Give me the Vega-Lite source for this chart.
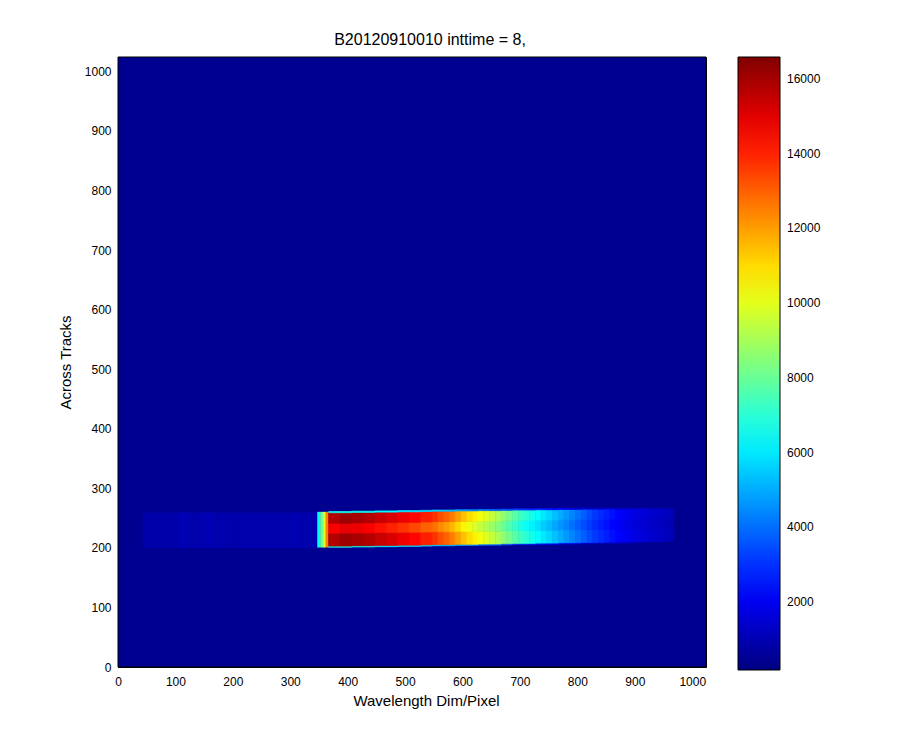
{
  "$schema": "https://vega.github.io/schema/vega-lite/v6.json",
  "width": 588,
  "height": 610,
  "autosize": "none",
  "padding": {"left": 118, "top": 57, "right": 194, "bottom": 83},
  "background": "white",
  "title": {"text": "B20120910010 inttime = 8,", "font": "Liberation Sans", "fontSize": 16, "fontWeight": "normal", "color": "black", "baseline": "alphabetic", "offset": -4, "dx": 18},
  "config": {
    "view": {"stroke": null},
    "axis": {"labelFont": "Liberation Sans", "labelFontSize": 12, "labelColor": "black", "labelFlush": false, "tickColor": "black", "domainColor": "black", "grid": false, "tickSize": -5, "zindex": 1, "titleFont": "Liberation Sans", "titleFontSize": 15, "titleFontWeight": "normal", "titleColor": "black"}
  },
  "datasets": {
    "cells": [
      {"x0": 0, "x1": 1024, "y0": 0, "y1": 1024, "v": 440},
      {"x0": 43, "x1": 105, "y0": 199.5, "y1": 259.5, "v": 880},
      {"x0": 105, "x1": 121, "y0": 199.5, "y1": 259.5, "v": 1020},
      {"x0": 121, "x1": 150, "y0": 199.5, "y1": 259.5, "v": 900},
      {"x0": 150, "x1": 162, "y0": 199.5, "y1": 259.5, "v": 1020},
      {"x0": 162, "x1": 200, "y0": 199.5, "y1": 259.5, "v": 890},
      {"x0": 200, "x1": 305, "y0": 199.5, "y1": 259.5, "v": 900},
      {"x0": 305, "x1": 318, "y0": 199.5, "y1": 259.5, "v": 1010},
      {"x0": 318, "x1": 347, "y0": 199.5, "y1": 259.5, "v": 940},
      {"x0": 347, "x1": 352, "y0": 200.5, "y1": 260.5, "v": 6300},
      {"x0": 352, "x1": 357, "y0": 200.5, "y1": 260.5, "v": 8000},
      {"x0": 357, "x1": 362, "y0": 200.5, "y1": 260.5, "v": 10000},
      {"x0": 362, "x1": 367, "y0": 200.5, "y1": 260.5, "v": 12500}
    ],
    "cols": [
      {"x0": 367, "x1": 387, "y0": 201, "y1": 203, "y2": 224.5, "y3": 241.5, "y4": 259, "y5": 261, "e": 6570, "b": 15770, "m": 14600},
      {"x0": 387, "x1": 407, "y0": 201, "y1": 203, "y2": 224.5, "y3": 241.5, "y4": 259, "y5": 261, "e": 6700, "b": 16090, "m": 14900},
      {"x0": 407, "x1": 427, "y0": 201.5, "y1": 203.5, "y2": 225, "y3": 242, "y4": 259.5, "y5": 261.5, "e": 6660, "b": 15980, "m": 14800},
      {"x0": 427, "x1": 447, "y0": 201.5, "y1": 203.5, "y2": 225, "y3": 242, "y4": 259.5, "y5": 261.5, "e": 6570, "b": 15770, "m": 14600},
      {"x0": 447, "x1": 467, "y0": 202, "y1": 204, "y2": 225.5, "y3": 242.5, "y4": 260, "y5": 262, "e": 6440, "b": 15440, "m": 14300},
      {"x0": 467, "x1": 487, "y0": 202, "y1": 204, "y2": 225.5, "y3": 242.5, "y4": 260, "y5": 262, "e": 6300, "b": 15120, "m": 14000},
      {"x0": 487, "x1": 507, "y0": 202.5, "y1": 204.5, "y2": 226, "y3": 243, "y4": 260.5, "y5": 262.5, "e": 6170, "b": 14800, "m": 13700},
      {"x0": 507, "x1": 527, "y0": 202.5, "y1": 204.5, "y2": 226, "y3": 243, "y4": 260.5, "y5": 262.5, "e": 6030, "b": 14470, "m": 13400},
      {"x0": 527, "x1": 547, "y0": 203, "y1": 205, "y2": 226.5, "y3": 243.5, "y4": 261, "y5": 263, "e": 5850, "b": 14040, "m": 13000},
      {"x0": 547, "x1": 557, "y0": 203.5, "y1": 205.5, "y2": 227, "y3": 244, "y4": 261.5, "y5": 263.5, "e": 5720, "b": 13720, "m": 12700},
      {"x0": 557, "x1": 567, "y0": 203.5, "y1": 205.5, "y2": 227, "y3": 244, "y4": 261.5, "y5": 263.5, "e": 5540, "b": 13280, "m": 12300},
      {"x0": 567, "x1": 577, "y0": 203.5, "y1": 205.5, "y2": 227, "y3": 244, "y4": 261.5, "y5": 263.5, "e": 5400, "b": 12960, "m": 12000},
      {"x0": 577, "x1": 587, "y0": 203.5, "y1": 205.5, "y2": 227, "y3": 244, "y4": 261.5, "y5": 263.5, "e": 5220, "b": 12530, "m": 11600},
      {"x0": 587, "x1": 597, "y0": 204, "y1": 206, "y2": 227.5, "y3": 244.5, "y4": 262, "y5": 264, "e": 5000, "b": 11990, "m": 11100},
      {"x0": 597, "x1": 607, "y0": 204, "y1": 206, "y2": 227.5, "y3": 244.5, "y4": 262, "y5": 264, "e": 4770, "b": 11450, "m": 10600},
      {"x0": 607, "x1": 617, "y0": 204, "y1": 206, "y2": 227.5, "y3": 244.5, "y4": 262, "y5": 264, "e": 4590, "b": 11020, "m": 10200},
      {"x0": 617, "x1": 627, "y0": 204, "y1": 206, "y2": 227.5, "y3": 244.5, "y4": 262, "y5": 264, "e": 4430, "b": 10640, "m": 9850},
      {"x0": 627, "x1": 637, "y0": 204.5, "y1": 206.5, "y2": 228, "y3": 245, "y4": 262.5, "y5": 264.5, "e": 4280, "b": 10260, "m": 9500},
      {"x0": 637, "x1": 647, "y0": 204.5, "y1": 206.5, "y2": 228, "y3": 245, "y4": 262.5, "y5": 264.5, "e": 4120, "b": 9880, "m": 9150},
      {"x0": 647, "x1": 657, "y0": 204.5, "y1": 206.5, "y2": 228, "y3": 245, "y4": 262.5, "y5": 264.5, "e": 3960, "b": 9500, "m": 8800},
      {"x0": 657, "x1": 667, "y0": 204.5, "y1": 206.5, "y2": 228, "y3": 245, "y4": 262.5, "y5": 264.5, "e": 3800, "b": 9130, "m": 8450},
      {"x0": 667, "x1": 677, "y0": 205, "y1": 207, "y2": 228.5, "y3": 245.5, "y4": 263, "y5": 265, "e": 3600, "b": 8640, "m": 8000},
      {"x0": 677, "x1": 687, "y0": 205, "y1": 207, "y2": 228.5, "y3": 245.5, "y4": 263, "y5": 265, "e": 3420, "b": 8210, "m": 7600},
      {"x0": 687, "x1": 697, "y0": 205.5, "y1": 207.5, "y2": 229, "y3": 246, "y4": 263.5, "y5": 265.5, "e": 3240, "b": 7780, "m": 7200},
      {"x0": 697, "x1": 707, "y0": 205.5, "y1": 207.5, "y2": 229, "y3": 246, "y4": 263.5, "y5": 265.5, "e": 3060, "b": 7340, "m": 6800},
      {"x0": 707, "x1": 717, "y0": 205.5, "y1": 207.5, "y2": 229, "y3": 246, "y4": 263.5, "y5": 265.5, "e": 2900, "b": 6970, "m": 6450},
      {"x0": 717, "x1": 727, "y0": 205.5, "y1": 207.5, "y2": 229, "y3": 246, "y4": 263.5, "y5": 265.5, "e": 2770, "b": 6640, "m": 6150},
      {"x0": 727, "x1": 737, "y0": 206, "y1": 208, "y2": 229.5, "y3": 246.5, "y4": 264, "y5": 266, "e": 2630, "b": 6320, "m": 5850},
      {"x0": 737, "x1": 747, "y0": 206, "y1": 208, "y2": 229.5, "y3": 246.5, "y4": 264, "y5": 266, "e": 2500, "b": 5990, "m": 5550},
      {"x0": 747, "x1": 757, "y0": 206, "y1": 208, "y2": 229.5, "y3": 246.5, "y4": 264, "y5": 266, "e": 2360, "b": 5670, "m": 5250},
      {"x0": 757, "x1": 767, "y0": 206, "y1": 208, "y2": 229.5, "y3": 246.5, "y4": 264, "y5": 266, "e": 2230, "b": 5350, "m": 4950},
      {"x0": 767, "x1": 777, "y0": 206.5, "y1": 208.5, "y2": 230, "y3": 247, "y4": 264.5, "y5": 266.5, "e": 2090, "b": 5020, "m": 4650},
      {"x0": 777, "x1": 787, "y0": 206.5, "y1": 208.5, "y2": 230, "y3": 247, "y4": 264.5, "y5": 266.5, "e": 1960, "b": 4700, "m": 4350},
      {"x0": 787, "x1": 797, "y0": 206.5, "y1": 208.5, "y2": 230, "y3": 247, "y4": 264.5, "y5": 266.5, "e": 1820, "b": 4370, "m": 4050},
      {"x0": 797, "x1": 807, "y0": 206.5, "y1": 208.5, "y2": 230, "y3": 247, "y4": 264.5, "y5": 266.5, "e": 1690, "b": 4050, "m": 3750},
      {"x0": 807, "x1": 817, "y0": 207, "y1": 209, "y2": 230.5, "y3": 247.5, "y4": 265, "y5": 267, "e": 1550, "b": 3730, "m": 3450},
      {"x0": 817, "x1": 827, "y0": 207, "y1": 209, "y2": 230.5, "y3": 247.5, "y4": 265, "y5": 267, "e": 1420, "b": 3400, "m": 3150},
      {"x0": 827, "x1": 837, "y0": 207, "y1": 209, "y2": 230.5, "y3": 247.5, "y4": 265, "y5": 267, "e": 1310, "b": 3130, "m": 2900},
      {"x0": 837, "x1": 847, "y0": 207, "y1": 209, "y2": 230.5, "y3": 247.5, "y4": 265, "y5": 267, "e": 1220, "b": 2920, "m": 2700},
      {"x0": 847, "x1": 857, "y0": 207.5, "y1": 209.5, "y2": 231, "y3": 248, "y4": 265.5, "y5": 267.5, "e": 1130, "b": 2700, "m": 2500},
      {"x0": 857, "x1": 867, "y0": 207.5, "y1": 209.5, "y2": 231, "y3": 248, "y4": 265.5, "y5": 267.5, "e": 1040, "b": 2480, "m": 2300},
      {"x0": 867, "x1": 877, "y0": 207.5, "y1": 209.5, "y2": 231, "y3": 248, "y4": 265.5, "y5": 267.5, "e": 950, "b": 2270, "m": 2100},
      {"x0": 877, "x1": 887, "y0": 207.5, "y1": 209.5, "y2": 231, "y3": 248, "y4": 265.5, "y5": 267.5, "e": 860, "b": 2050, "m": 1900},
      {"x0": 887, "x1": 897, "y0": 208, "y1": 210, "y2": 231.5, "y3": 248.5, "y4": 266, "y5": 268, "e": 790, "b": 1890, "m": 1750},
      {"x0": 897, "x1": 907, "y0": 208, "y1": 210, "y2": 231.5, "y3": 248.5, "y4": 266, "y5": 268, "e": 740, "b": 1780, "m": 1650},
      {"x0": 907, "x1": 917, "y0": 208.5, "y1": 210.5, "y2": 232, "y3": 249, "y4": 266.5, "y5": 268.5, "e": 700, "b": 1670, "m": 1550},
      {"x0": 917, "x1": 927, "y0": 208.5, "y1": 210.5, "y2": 232, "y3": 249, "y4": 266.5, "y5": 268.5, "e": 650, "b": 1570, "m": 1450},
      {"x0": 927, "x1": 937, "y0": 208.5, "y1": 210.5, "y2": 232, "y3": 249, "y4": 266.5, "y5": 268.5, "e": 610, "b": 1460, "m": 1350},
      {"x0": 937, "x1": 947, "y0": 208.5, "y1": 210.5, "y2": 232, "y3": 249, "y4": 266.5, "y5": 268.5, "e": 560, "b": 1350, "m": 1250},
      {"x0": 947, "x1": 957, "y0": 209, "y1": 211, "y2": 232.5, "y3": 249.5, "y4": 267, "y5": 269, "e": 520, "b": 1240, "m": 1150},
      {"x0": 957, "x1": 967, "y0": 209, "y1": 211, "y2": 232.5, "y3": 249.5, "y4": 267, "y5": 269, "e": 470, "b": 1130, "m": 1050}
    ]
  },
  "layer": [
    {
      "data": {"name": "cells"},
      "mark": {"type": "rect"},
      "encoding": {
        "x": {"field": "x0", "type": "quantitative", "scale": {"domain": [0, 1024], "nice": false, "zero": false}, "axis": {"title": "Wavelength Dim/Pixel", "values": [0, 100, 200, 300, 400, 500, 600, 700, 800, 900, 1000], "format": "d", "labelPadding": 14, "titlePadding": 6, "titleX": 308}},
        "x2": {"field": "x1"},
        "y": {"field": "y0", "type": "quantitative", "scale": {"domain": [0, 1024], "nice": false, "zero": false}, "axis": {"title": "Across Tracks", "values": [0, 100, 200, 300, 400, 500, 600, 700, 800, 900, 1000], "format": "d", "labelPadding": 12, "titlePadding": 11}},
        "y2": {"field": "y1"},
        "color": {"field": "v", "type": "quantitative", "scale": {"domain": [180, 2231, 6334, 10436, 14539, 16590], "range": ["#000080", "#0000ff", "#00ffff", "#ffff00", "#ff0000", "#800000"], "interpolate": "rgb"},
          "legend": {"type": "gradient", "orient": "none", "legendX": 620, "legendY": 0, "padding": 0, "direction": "vertical", "gradientLength": 613, "gradientThickness": 42, "values": [2000, 4000, 6000, 8000, 10000, 12000, 14000, 16000], "format": "d", "title": null, "labelFont": "Liberation Sans", "labelFontSize": 12, "labelColor": "black", "labelOffset": 7, "gradientStrokeColor": "black", "gradientStrokeWidth": 1, "labelOverlap": false}}
      }
    },
    {
      "data": {"name": "cols"},
      "mark": {"type": "rect", "strokeWidth": 0.7},
      "encoding": {
        "x": {"field": "x0", "type": "quantitative", "axis": null},
        "x2": {"field": "x1"},
        "y": {"field": "y0", "type": "quantitative", "axis": null},
        "y2": {"field": "y1"},
        "color": {"field": "e", "type": "quantitative", "scale": {"domain": [180, 2231, 6334, 10436, 14539, 16590], "range": ["#000080", "#0000ff", "#00ffff", "#ffff00", "#ff0000", "#800000"], "interpolate": "rgb"}, "legend": null},
        "stroke": {"field": "e", "type": "quantitative", "scale": {"domain": [180, 2231, 6334, 10436, 14539, 16590], "range": ["#000080", "#0000ff", "#00ffff", "#ffff00", "#ff0000", "#800000"], "interpolate": "rgb"}, "legend": null}
      }
    },
    {
      "data": {"name": "cols"},
      "mark": {"type": "rect", "strokeWidth": 0.7},
      "encoding": {
        "x": {"field": "x0", "type": "quantitative", "axis": null},
        "x2": {"field": "x1"},
        "y": {"field": "y1", "type": "quantitative", "axis": null},
        "y2": {"field": "y2"},
        "color": {"field": "b", "type": "quantitative", "scale": {"domain": [180, 2231, 6334, 10436, 14539, 16590], "range": ["#000080", "#0000ff", "#00ffff", "#ffff00", "#ff0000", "#800000"], "interpolate": "rgb"}, "legend": null},
        "stroke": {"field": "b", "type": "quantitative", "scale": {"domain": [180, 2231, 6334, 10436, 14539, 16590], "range": ["#000080", "#0000ff", "#00ffff", "#ffff00", "#ff0000", "#800000"], "interpolate": "rgb"}, "legend": null}
      }
    },
    {
      "data": {"name": "cols"},
      "mark": {"type": "rect", "strokeWidth": 0.7},
      "encoding": {
        "x": {"field": "x0", "type": "quantitative", "axis": null},
        "x2": {"field": "x1"},
        "y": {"field": "y2", "type": "quantitative", "axis": null},
        "y2": {"field": "y3"},
        "color": {"field": "m", "type": "quantitative", "scale": {"domain": [180, 2231, 6334, 10436, 14539, 16590], "range": ["#000080", "#0000ff", "#00ffff", "#ffff00", "#ff0000", "#800000"], "interpolate": "rgb"}, "legend": null},
        "stroke": {"field": "m", "type": "quantitative", "scale": {"domain": [180, 2231, 6334, 10436, 14539, 16590], "range": ["#000080", "#0000ff", "#00ffff", "#ffff00", "#ff0000", "#800000"], "interpolate": "rgb"}, "legend": null}
      }
    },
    {
      "data": {"name": "cols"},
      "mark": {"type": "rect", "strokeWidth": 0.7},
      "encoding": {
        "x": {"field": "x0", "type": "quantitative", "axis": null},
        "x2": {"field": "x1"},
        "y": {"field": "y3", "type": "quantitative", "axis": null},
        "y2": {"field": "y4"},
        "color": {"field": "b", "type": "quantitative", "scale": {"domain": [180, 2231, 6334, 10436, 14539, 16590], "range": ["#000080", "#0000ff", "#00ffff", "#ffff00", "#ff0000", "#800000"], "interpolate": "rgb"}, "legend": null},
        "stroke": {"field": "b", "type": "quantitative", "scale": {"domain": [180, 2231, 6334, 10436, 14539, 16590], "range": ["#000080", "#0000ff", "#00ffff", "#ffff00", "#ff0000", "#800000"], "interpolate": "rgb"}, "legend": null}
      }
    },
    {
      "data": {"name": "cols"},
      "mark": {"type": "rect", "strokeWidth": 0.7},
      "encoding": {
        "x": {"field": "x0", "type": "quantitative", "axis": null},
        "x2": {"field": "x1"},
        "y": {"field": "y4", "type": "quantitative", "axis": null},
        "y2": {"field": "y5"},
        "color": {"field": "e", "type": "quantitative", "scale": {"domain": [180, 2231, 6334, 10436, 14539, 16590], "range": ["#000080", "#0000ff", "#00ffff", "#ffff00", "#ff0000", "#800000"], "interpolate": "rgb"}, "legend": null},
        "stroke": {"field": "e", "type": "quantitative", "scale": {"domain": [180, 2231, 6334, 10436, 14539, 16590], "range": ["#000080", "#0000ff", "#00ffff", "#ffff00", "#ff0000", "#800000"], "interpolate": "rgb"}, "legend": null}
      }
    },
    {
      "data": {"name": "cells"},
      "transform": [{"filter": "datum.x1 == 1024"}],
      "mark": {"type": "rect", "fill": null, "stroke": "black", "strokeWidth": 1},
      "encoding": {
        "x": {"field": "x0", "type": "quantitative", "axis": {"orient": "top", "title": null, "labels": false, "values": [0, 100, 200, 300, 400, 500, 600, 700, 800, 900, 1000]}},
        "x2": {"field": "x1"},
        "y": {"field": "y0", "type": "quantitative", "axis": {"orient": "right", "title": null, "labels": false, "values": [0, 100, 200, 300, 400, 500, 600, 700, 800, 900, 1000]}},
        "y2": {"field": "y1"}
      }
    }
  ],
  "resolve": {"axis": {"x": "independent", "y": "independent"}, "scale": {"color": "independent", "stroke": "independent"}, "legend": {"color": "independent", "stroke": "independent"}}
}
